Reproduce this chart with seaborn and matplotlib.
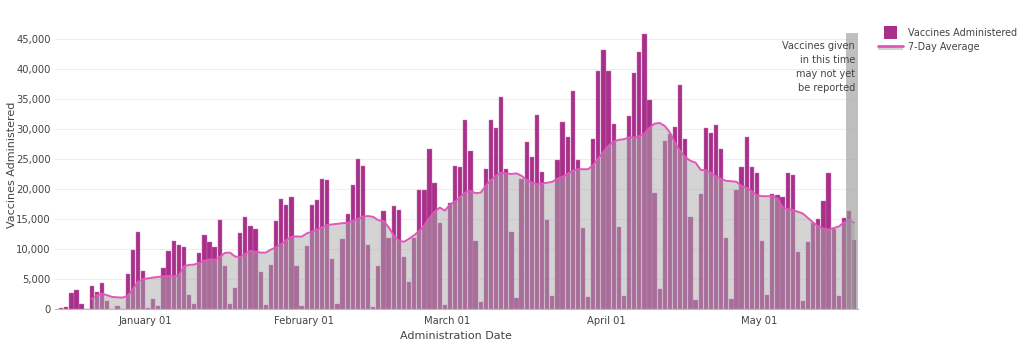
import numpy as np
import pandas as pd
import matplotlib
matplotlib.use("Agg")
import matplotlib.pyplot as plt
import seaborn as sns
from matplotlib.patches import Rectangle, Patch
from matplotlib.lines import Line2D
from matplotlib.legend_handler import HandlerBase

# ---------------- data ----------------
start_date = "2020-12-15"

daily_doses = [
    150, 400, 2600, 3200, 850, 0, 3800, 2900, 4300, 1300,
    0, 450, 0, 5800, 9800, 12900, 6400, 150, 1600, 500,
    6900, 9700, 11400, 10700, 10400, 2300, 800, 9300, 12400, 11100,
    10400, 14800, 7100, 800, 3500, 12700, 15400, 13900, 13300, 6200,
    700, 7400, 14600, 18300, 17400, 18700, 7200, 500, 10500, 17400,
    18200, 21700, 21500, 8400, 800, 11600, 15900, 20600, 25000, 23800,
    10700, 400, 7200, 16300, 11900, 17200, 16500, 8700, 4500, 11900,
    19800, 19800, 26600, 21000, 14400, 600, 17700, 23800, 23700, 31500,
    26300, 11400, 1200, 23300, 31500, 30200, 35300, 23300, 12800, 1900,
    21700, 27900, 25400, 32400, 22800, 14800, 2100, 24900, 31200, 28700,
    36400, 24800, 13500, 2000, 28300, 39600, 43200, 39700, 30800, 13700,
    2100, 32100, 39300, 42900, 45800, 34900, 19300, 3300, 28000, 29200,
    30300, 37400, 28300, 15300, 1500, 19100, 30100, 29300, 30600, 26700,
    11800, 1600, 19800, 23600, 28600, 23600, 22600, 11400, 2300, 19100,
    19000, 18600, 22600, 22400, 9500, 1400, 11200, 14300, 15000, 18000,
    22700, 13400, 2100, 15200, 16300, 11500,
]

seven_day_avg = [
    None, None, None, None, None, None, 1670, 2300, 2550, 2300,
    2000, 1950, 1900, 2200, 3300, 4500, 5000, 5100, 5250, 5350,
    5450, 5500, 5450, 5600, 7100, 7350, 7400, 7700, 8050, 8250,
    8200, 8650, 9350, 9400, 8750, 8650, 9200, 9700, 9550, 9400,
    9400, 9900, 10300, 10800, 11500, 12000, 12100, 12050, 12600, 12900,
    13250, 13600, 14000, 14100, 14200, 14300, 14350, 14700, 15000, 15400,
    15500, 15350, 14800, 14700, 13650, 12300, 11400, 11200, 11700, 12300,
    13000, 14000, 15200, 16200, 16900, 16400, 17400, 17900, 18700, 19400,
    19700, 19300, 19400, 20500, 21500, 22200, 22700, 22600, 22500, 22600,
    22200, 21500, 21050, 20800, 20900, 21050, 21200, 21700, 22050, 22500,
    23050, 23300, 23300, 23300, 24000, 25100, 26200, 27200, 27900, 28200,
    28300, 28600, 28600, 28800, 29200, 30200, 30900, 31000, 30500, 29400,
    27700, 26300, 25300, 24700, 24400, 23200, 23100, 22700, 22100, 21700,
    21350, 21300, 21200, 20500, 20200, 19600, 18950, 18800, 18800, 18800,
    18400, 17000, 16600, 16500, 16200, 15900, 15150, 14400, 13750, 13400,
    13200, 13500, 13750, 14400, 14850, 14400,
]

tick_dates = ["2021-01-01", "2021-02-01", "2021-03-01", "2021-04-01", "2021-05-01"]
tick_labels = ["January 01", "February 01", "March 01", "April 01", "May 01"]
y_ticks = [0, 5000, 10000, 15000, 20000, 25000, 30000, 35000, 40000, 45000]
unreported_from = "2021-05-18"
note_text = "Vaccines given\nin this time\nmay not yet\nbe reported"

# ---------------- styling ----------------
BAR = "#a8308a"
PINK = "#e257ba"
FILL = "#aaaaaa"
TXT = "#444444"

dates = pd.date_range(start_date, periods=len(daily_doses), freq="D")
df = pd.DataFrame({
    "date": dates.strftime("%Y-%m-%d"),
    "doses": daily_doses,
    "avg": pd.array(seven_day_avg, dtype="Float64").astype(float),
})
df["pos"] = np.arange(len(df))

sns.set_theme(style="white")
plt.rcParams["font.family"] = ["DejaVu Sans"]

W, H = 1024, 342
fig = plt.figure(figsize=(W / 100, H / 100), dpi=100)
ax = fig.add_axes([55 / W, 1 - 309 / H, (858 - 55) / W, (309 - 33) / H])

sns.barplot(data=df, x="pos", y="doses", native_scale=True, color=BAR,
            saturation=1, width=0.84, edgecolor="#c77ab3", linewidth=0.3,
            ax=ax, zorder=2)

ax.fill_between(df["pos"], df["avg"], 0, color=FILL, alpha=0.5,
                linewidth=0, zorder=3)
sns.lineplot(data=df, x="pos", y="avg", color=PINK, linewidth=1.4,
             ax=ax, zorder=4)

xmin, xmax = -1.2, len(df) - 0.25
pos_of = dict(zip(df["date"], df["pos"]))
ax.axvspan(pos_of[unreported_from] - 0.5, xmax, color="#999999",
           alpha=0.62, linewidth=0, zorder=5)
ax.text(pos_of[unreported_from] + 1.2, 44700, note_text, ha="right",
        va="top", fontsize=7.0, color=TXT, linespacing=1.5, zorder=6)

ax.set_xlim(xmin, xmax)
ax.set_ylim(0, 46000)
ax.set_xticks([pos_of[d] - 0.5 for d in tick_dates])
ax.set_xticklabels(tick_labels)
ax.set_yticks(y_ticks)
ax.set_yticklabels([f"{v:,}" for v in y_ticks])
ax.tick_params(axis="both", length=0, labelsize=7.2, colors=TXT, pad=5)
ax.tick_params(axis="y", pad=3)
ax.grid(axis="y", color="#eeeeee", linewidth=0.8, zorder=0)
ax.set_axisbelow(True)
for s in ["top", "right", "left"]:
    ax.spines[s].set_visible(False)
ax.spines["bottom"].set_color("#bbbbbb")
ax.spines["bottom"].set_linewidth(0.8)
ax.spines["bottom"].set_zorder(7)

ax.set_xlabel("Administration Date", fontsize=8.0, color=TXT)
ax.set_ylabel("Vaccines Administered", fontsize=8.0, color=TXT)
ax.xaxis.set_label_coords((456 - 55) / 803, (309 - 336) / 276)
ax.yaxis.set_label_coords((12 - 55) / 803, (309 - 165) / 276)
ax.xaxis.label.set_va("center")
ax.yaxis.label.set_va("center")


class BarHandler(HandlerBase):
    def create_artists(self, legend, orig_handle, xd, yd, width, height,
                       fontsize, trans):
        s = 9
        cx = -xd + width / 2
        cy = -yd + height / 2
        r = Rectangle((cx - s / 2, cy - s / 2), s, s, facecolor=BAR,
                      edgecolor="none", transform=trans)
        return [r]


class AvgHandler(HandlerBase):
    def create_artists(self, legend, orig_handle, xd, yd, width, height,
                       fontsize, trans):
        y0 = -yd + height * 0.05
        r = Rectangle((-xd, y0), width, height * 0.45, facecolor="#d3d3d3",
                      edgecolor="none", transform=trans)
        ln = Line2D([-xd, -xd + width], [y0 + height * 0.5] * 2, color=PINK,
                    linewidth=2, transform=trans)
        return [r, ln]


h_bar = Patch(facecolor=BAR)
h_avg = Line2D([], [], color=PINK)
fig.legend([h_bar, h_avg], ["Vaccines Administered", "7-Day Average"],
           handler_map={Patch: BarHandler(), Line2D: AvgHandler()},
           loc="upper left", bbox_to_anchor=(874 / W, 1 - 24 / H),
           frameon=False, fontsize=6.9, labelcolor=TXT, handlelength=2.6,
           handletextpad=0.6, labelspacing=0.45, borderaxespad=0)

fig.savefig("out.png", dpi=100, facecolor="white")
